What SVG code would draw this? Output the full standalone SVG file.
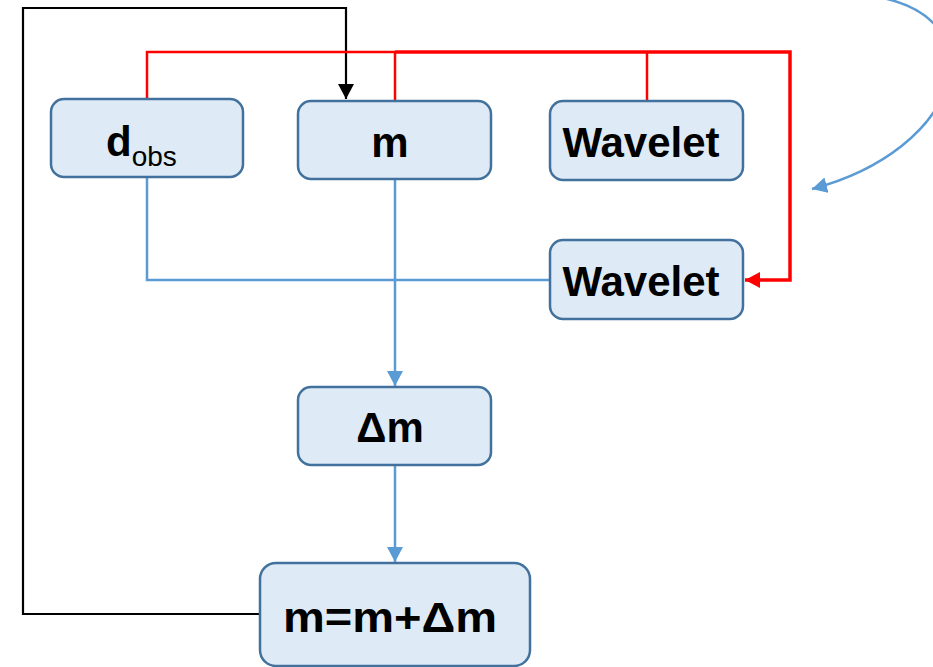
<svg xmlns="http://www.w3.org/2000/svg" width="933" height="667" viewBox="0 0 933 667">
<style>
.box{fill:#DEEAF6;stroke:#41719C;stroke-width:2.5}
.lbl{font-family:"Liberation Sans",Arial,sans-serif;font-weight:bold;font-size:42px;fill:#000}
.sub{font-family:"Liberation Sans",Arial,sans-serif;font-weight:normal;font-size:28px;fill:#000}
.blue{fill:none;stroke:#5B9BD5;stroke-width:2.5}
.red{fill:none;stroke:#FF0000;stroke-width:2.5}
.redb{fill:none;stroke:#FF0000;stroke-width:3.5}
.black{fill:none;stroke:#000;stroke-width:2.2}
</style>
<defs>
<marker id="ab" markerUnits="userSpaceOnUse" markerWidth="16" markerHeight="16" refX="15" refY="8" orient="auto"><path d="M0,0 L15,8 L0,16 z" fill="#5B9BD5"/></marker>
<marker id="ar" markerUnits="userSpaceOnUse" markerWidth="16" markerHeight="16" refX="15" refY="8" orient="auto"><path d="M0,0 L15,8 L0,16 z" fill="#FF0000"/></marker>
<marker id="ak" markerUnits="userSpaceOnUse" markerWidth="16" markerHeight="16" refX="15" refY="8" orient="auto"><path d="M0,0 L15,8 L0,16 z" fill="#000"/></marker>
</defs>
<g id="connectors">
<path class="black" d="M260,614 H23 V8 H346 V99" marker-end="url(#ak)"/>
<path class="red" d="M147,99 V52 H395"/>
<path class="red" d="M395,101 V52"/>
<path class="red" d="M647,101 V52"/>
<path class="redb" d="M395,52 H790 V280 H745" marker-end="url(#ar)"/>
<path class="blue" d="M147,178 V280 H550"/>
<path class="blue" d="M395,179 V386" marker-end="url(#ab)"/>
<path class="blue" d="M395,465 V562" marker-end="url(#ab)"/>
<path class="blue" d="M878,-3 C1000,20 960,150 812,189" marker-end="url(#ab)"/>
</g>
<g id="node-dobs">
<rect class="box" x="51" y="99" width="192" height="78" rx="13"/>
<text class="lbl" x="106" y="156">d<tspan class="sub" dy="10">obs</tspan></text>
</g>
<g id="node-m">
<rect class="box" x="298" y="101" width="193" height="78" rx="13"/>
<text class="lbl" x="390" y="157" text-anchor="middle">m</text>
</g>
<g id="node-wavelet-top">
<rect class="box" x="550" y="101" width="193" height="79" rx="13"/>
<text class="lbl" x="641" y="157" text-anchor="middle">Wavelet</text>
</g>
<g id="node-wavelet-bottom">
<rect class="box" x="550" y="240" width="193" height="79" rx="13"/>
<text class="lbl" x="641" y="296" text-anchor="middle">Wavelet</text>
</g>
<g id="node-dm">
<rect class="box" x="298" y="387" width="193" height="78" rx="13"/>
<text class="lbl" x="390" y="442" text-anchor="middle">Δm</text>
</g>
<g id="node-update">
<rect class="box" x="260" y="563" width="270" height="103" rx="16"/>
<text class="lbl" text-anchor="middle" transform="translate(390,632) scale(1.12,1)">m=m+Δm</text>
</g>
</svg>
